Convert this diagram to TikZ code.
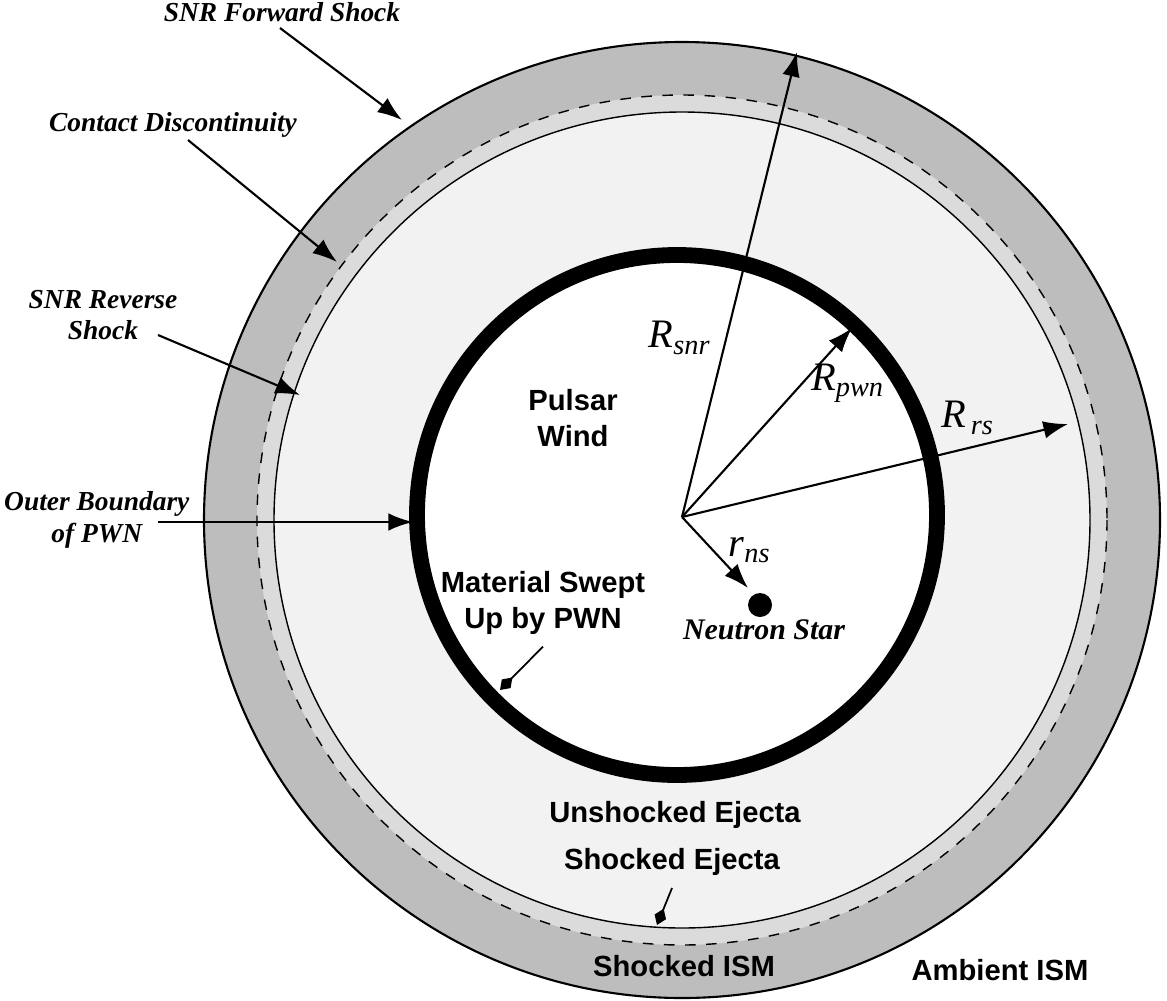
\documentclass[tikz,border=0pt]{standalone}
\usepackage{fontspec}
\setmainfont{Liberation Serif}
\setsansfont{Liberation Sans}
\usepackage{tikz}
\usetikzlibrary{arrows.meta}
\definecolor{ismgray}{gray}{0.74}
\definecolor{ejgray}{gray}{0.86}
\definecolor{ungray}{gray}{0.95}
\tikzset{
  lab/.style={font=\fontsize{7.8}{9}\selectfont\bfseries\itshape, align=center},
  zone/.style={font=\fontsize{8.3}{10}\selectfont\sffamily\bfseries, align=center},
  radius label/.style={font=\fontsize{11.5}{13}\selectfont\itshape},
  pointer/.style={-{Latex[length=7pt,width=5pt]}, line width=0.6pt},
  tick/.style={-{Diamond[length=5pt,width=3.5pt]}, line width=0.5pt}
}
\begin{document}
\begin{tikzpicture}[x=0.01cm, y=-0.01cm]
\useasboundingbox (0,0) rectangle (1167,1000);
% shells
\fill[ismgray] (682,520) circle (478);
\fill[ejgray] (682,520) circle (425);
\fill[ungray] (682,520) circle (408);
\draw[dashed, line width=0.4pt] (682,520) circle (425);
\draw[line width=0.4pt] (682,520) circle (408);
\draw[line width=0.6pt] (682,520) circle (478);
\fill[white] (677,515) circle (260);
\draw[line width=4.5pt] (677,515) circle (260);
\fill (760,605) circle (12);
% radii
\coordinate (centre) at (682,517);
\coordinate (snr) at (797,52);
\coordinate (pwn) at (852,328);
\coordinate (rs) at (1068,424);
\coordinate (ns) at (748,588);
\draw[pointer] (centre) -- (snr);
\draw[pointer] (centre) -- (pwn);
\draw[pointer] (centre) -- (rs);
\draw[pointer] (centre) -- (ns);
\node[radius label] (Rsnr) at (680,338) {R\textsubscript{snr}};
\node[radius label] (Rpwn) at (848,383) {R\textsubscript{pwn}};
\node[radius label] (Rrs) at (968,418) {R\textsubscript{\,rs}};
\node[radius label] (rns) at (750,550) {r\textsubscript{ns}};
% labels on the left
\node[lab] (forward) at (282,12) {SNR Forward Shock};
\node[lab] (contact) at (173,125) {Contact Discontinuity};
\node[lab] (reverse) at (103,315) {SNR Reverse\\Shock};
\node[lab, anchor=west, inner sep=1pt] (boundary) at (0,520) {Outer Boundary\\of PWN};
\coordinate (fs) at (402,120);
\coordinate (cd) at (337,262);
\coordinate (rv) at (300,395);
\coordinate (ob) at (413,522);
\draw[pointer] (280,28) -- (fs);
\draw[pointer] (188,140) -- (cd);
\draw[pointer] (158,335) -- (rv);
\draw[pointer] (158,522) -- (ob);
% zones
\node[zone] (wind) at (573,418) {Pulsar\\Wind};
\node[zone] (swept) at (543,603) {Material Swept\\Up by PWN};
\node[lab, font=\fontsize{8.5}{10}\selectfont\bfseries\itshape] (star) at (764,630) {Neutron Star};
\node[zone] (unshocked) at (675,815) {Unshocked Ejecta};
\node[zone] (shocked) at (672,862) {Shocked Ejecta};
\node[zone] (ism) at (684,966) {Shocked ISM};
\node[zone] (ambient) at (1000,970) {Ambient ISM};
\coordinate (sw) at (500,690);
\coordinate (se) at (657,925);
\draw[tick] (swept.south) -- (sw);
\draw[tick] (shocked.south) -- (se);
\end{tikzpicture}
\end{document}
